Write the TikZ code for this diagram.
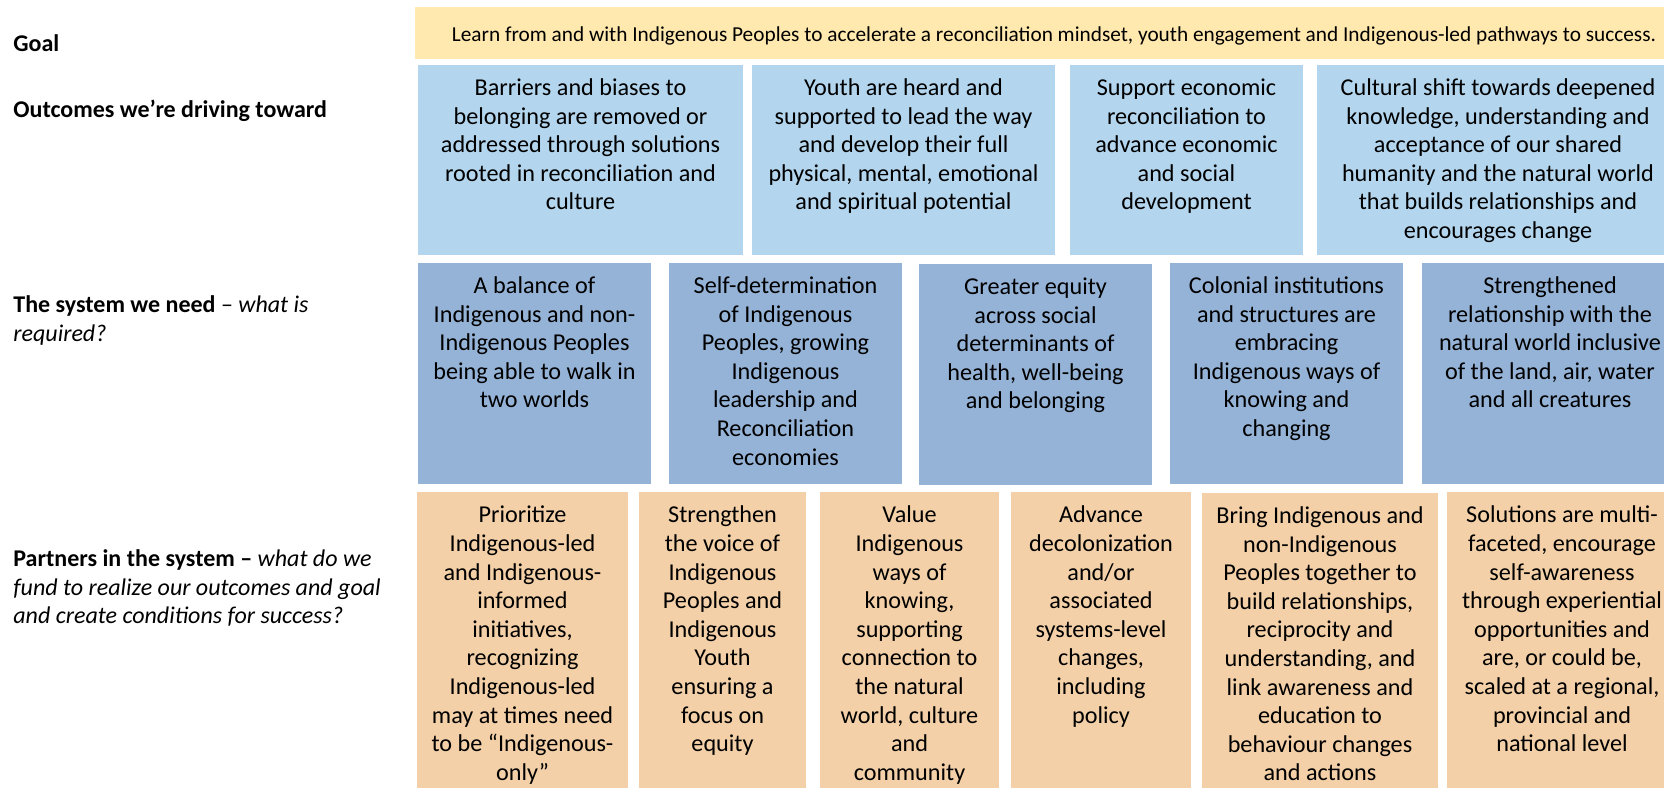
\documentclass[tikz,border=0pt]{standalone}
\usepackage{fontspec}
\setmainfont{Carlito}
\usetikzlibrary{fit}
\definecolor{goalc}{HTML}{FFE9AF}
\definecolor{outc}{HTML}{B3D5ED}
\definecolor{sysc}{HTML}{95B3D7}
\definecolor{partc}{HTML}{F3D0A7}
\newcommand{\fl}{\rule{0pt}{10pt}}
\tikzset{
  cell/.style={inner sep=0pt, draw=none},
  goalbox/.style={cell, fill=goalc},
  outbox/.style={cell, fill=outc},
  sysbox/.style={cell, fill=sysc},
  partbox/.style={cell, fill=partc},
  txt/.style={inner sep=0pt, align=center, anchor=north, font=\fontsize{12.1pt}{14.3pt}\selectfont},
  goaltxt/.style={inner sep=0pt, anchor=base, font=\fontsize{10.65pt}{13.3pt}\selectfont},
  lbl/.style={inner sep=0pt, align=left, anchor=north west, font=\fontsize{12.0pt}{14.3pt}\selectfont},
}
\begin{document}
\begin{tikzpicture}[x=0.5pt, y=-0.5pt]
\fill[white] (0,0) rectangle (1664,787);
\useasboundingbox (0,0) rectangle (1664,787);

% left labels (north = first baseline - 20)
\node[lbl] (lgoal) at (13,31) {\fl\textbf{Goal}};
\node[lbl] (lout) at (13,97) {\fl\textbf{Outcomes we’re driving toward}};
\node[lbl] (lsys) at (13,292) {\fl\textbf{The system we need} – \textit{what is}\\\textit{required?}};
\node[lbl] (lpart) at (13,546) {\fl\textbf{Partners in the system –} \textit{what do we}\\\textit{fund to realize our outcomes and goal}\\\textit{and create conditions for success?}};

% goal
\node[goalbox, fit={(415,7) (1693,59)}] (goal) {};
\node[goaltxt] (goalt) at (1054,41) {Learn from and with Indigenous Peoples to accelerate a reconciliation mindset, youth engagement and Indigenous-led pathways to success.};

% outcomes (text north = box top + 10)
\node[outbox, fit={(418,65) (743,255)}] (o1) {};
\node[outbox, fit={(752,65) (1055,255)}] (o2) {};
\node[outbox, fit={(1070,65) (1303,255)}] (o3) {};
\node[outbox, fit={(1317,65) (1679,255)}] (o4) {};
\node[txt] (o1t) at (580.5,75) {\fl Barriers and biases to\\belonging are removed or\\addressed through solutions\\rooted in reconciliation and\\culture};
\node[txt] (o2t) at (903.5,75) {\fl Youth are heard and\\supported to lead the way\\and develop their full\\physical, mental, emotional\\and spiritual potential};
\node[txt] (o3t) at (1186.5,75) {\fl Support economic\\reconciliation to\\advance economic\\and social\\development};
\node[txt] (o4t) at (1498,75) {\fl Cultural shift towards deepened\\knowledge, understanding and\\acceptance of our shared\\humanity and the natural world\\that builds relationships and\\encourages change};

% system
\node[sysbox, fit={(418,263) (651,484)}] (s1) {};
\node[sysbox, fit={(669,263) (902,484)}] (s2) {};
\node[sysbox, fit={(919,264) (1152,485)}] (s3) {};
\node[sysbox, fit={(1170,263) (1403,484)}] (s4) {};
\node[sysbox, fit={(1422,263) (1678,484)}] (s5) {};
\node[txt] (s1t) at (534.5,273) {\fl A balance of\\Indigenous and non-\\Indigenous Peoples\\being able to walk in\\two worlds};
\node[txt] (s2t) at (785.5,273) {\fl Self-determination\\of Indigenous\\Peoples, growing\\Indigenous\\leadership and\\Reconciliation\\economies};
\node[txt] (s3t) at (1035.5,274) {\fl Greater equity\\across social\\determinants of\\health, well-being\\and belonging};
\node[txt] (s4t) at (1286.5,273) {\fl Colonial institutions\\and structures are\\embracing\\Indigenous ways of\\knowing and\\changing};
\node[txt] (s5t) at (1550,273) {\fl Strengthened\\relationship with the\\natural world inclusive\\of the land, air, water\\and all creatures};

% partners
\node[partbox, fit={(417,492) (628,800)}] (p1) {};
\node[partbox, fit={(639,492) (806,800)}] (p2) {};
\node[partbox, fit={(820,492) (999,800)}] (p3) {};
\node[partbox, fit={(1011,492) (1191,800)}] (p4) {};
\node[partbox, fit={(1202,493) (1438,800)}] (p5) {};
\node[partbox, fit={(1447,492) (1677,800)}] (p6) {};
\node[txt] (p1t) at (522.5,502.5) {\fl Prioritize\\Indigenous-led\\and Indigenous-\\informed\\initiatives,\\recognizing\\Indigenous-led\\may at times need\\to be “Indigenous-\\only”};
\node[txt] (p2t) at (722.5,502.5) {\fl Strengthen\\the voice of\\Indigenous\\Peoples and\\Indigenous\\Youth\\ensuring a\\focus on\\equity};
\node[txt] (p3t) at (909.5,502.5) {\fl Value\\Indigenous\\ways of\\knowing,\\supporting\\connection to\\the natural\\world, culture\\and\\community};
\node[txt] (p4t) at (1101,502.5) {\fl Advance\\decolonization\\and/or\\associated\\systems-level\\changes,\\including\\policy};
\node[txt] (p5t) at (1320,503) {\fl Bring Indigenous and\\non-Indigenous\\Peoples together to\\build relationships,\\reciprocity and\\understanding, and\\link awareness and\\education to\\behaviour changes\\and actions};
\node[txt] (p6t) at (1562,502.5) {\fl Solutions are multi-\\faceted, encourage\\self-awareness\\through experiential\\opportunities and\\are, or could be,\\scaled at a regional,\\provincial and\\national level};
\end{tikzpicture}
\end{document}
